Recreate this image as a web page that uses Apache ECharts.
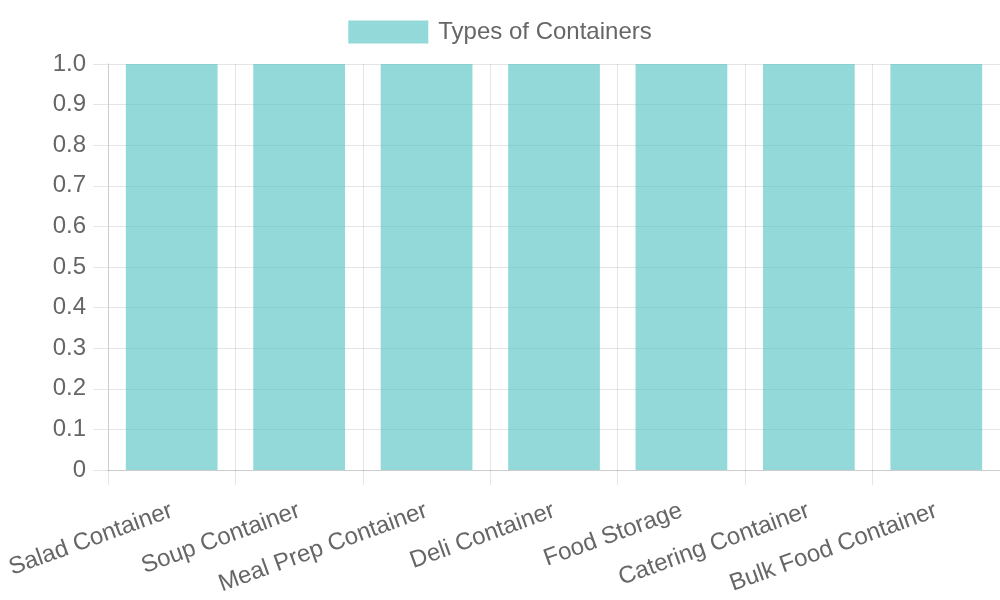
<!DOCTYPE html>
<html>
<head>
<meta charset="utf-8">
<script src="https://cdn.jsdelivr.net/npm/echarts@6/dist/echarts.min.js"></script>
<style>
  html, body { margin: 0; padding: 0; background: #fff; }
  #chart { width: 1000px; height: 600px; }
</style>
</head>
<body>
<div id="chart"></div>
<script>
// chart data
const categories = ['Salad Container', 'Soup Container', 'Meal Prep Container', 'Deli Container', 'Food Storage', 'Catering Container', 'Bulk Food Container'];
const seriesName = 'Types of Containers';
const values = [1, 1, 1, 1, 1, 1, 1];

const myChart = echarts.init(document.getElementById('chart'));

const gridColor = 'rgba(0,0,0,0.1)';
const textColor = '#666';
const font = 'Liberation Sans, Arial, sans-serif';

const option = {
  animation: false,
  textStyle: { fontFamily: font },
  legend: {
    top: 15,
    left: 'center',
    itemWidth: 80,
    itemHeight: 23,
    itemGap: 10,
    icon: 'rect',
    textStyle: { fontSize: 24, color: textColor, fontFamily: font, padding: [0, 0, 0, 5] },
    data: [seriesName],
  },
  grid: {
    left: 108,
    right: 0,
    top: 64,
    bottom: 130,
    containLabel: false,
    outerBoundsMode: 'none',
  },
  xAxis: {
    type: 'category',
    data: categories,
    boundaryGap: true,
    axisLine: { show: true, lineStyle: { color: '#ccc', width: 1 } },
    axisTick: { show: true, length: 15, lineStyle: { color: gridColor } },
    splitLine: { show: true, lineStyle: { color: gridColor } },
    axisLabel: {
      rotate: 20,
      fontSize: 24,
      color: textColor,
      fontFamily: font,
      margin: 40,
      interval: 0,
    },
  },
  yAxis: {
    type: 'value',
    min: 0,
    max: 1,
    interval: 0.1,
    axisLine: { show: true, lineStyle: { color: '#ccc', width: 1 } },
    axisTick: { show: true, length: 15, lineStyle: { color: gridColor } },
    splitLine: { show: true, lineStyle: { color: gridColor } },
    axisLabel: {
      fontSize: 24,
      color: textColor,
      fontFamily: font,
      margin: 22,
      formatter: v => (v === 0 ? '0' : v.toFixed(1)),
    },
  },
  series: [
    {
      name: seriesName,
      type: 'bar',
      data: values,
      barWidth: '72%',
      itemStyle: { color: 'rgba(75, 192, 192, 0.6)' },
    },
  ],
};

myChart.setOption(option);
</script>
</body>
</html>
